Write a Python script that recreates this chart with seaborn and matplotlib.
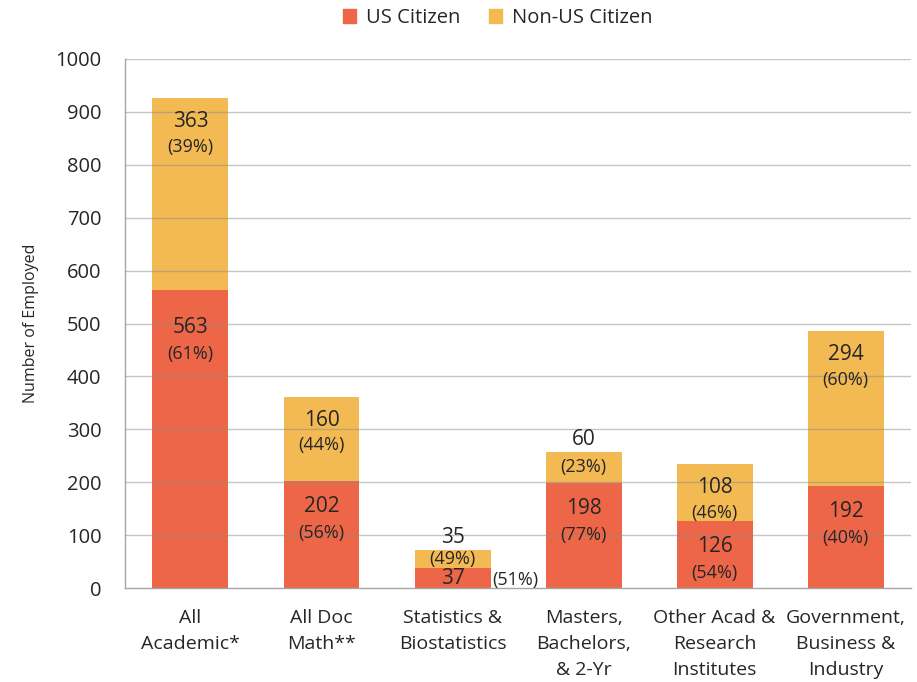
import matplotlib
matplotlib.use("Agg")
import matplotlib.pyplot as plt
import seaborn as sns
import pandas as pd
from matplotlib.patches import Patch

categories = [
    "All\nAcademic*",
    "All Doc\nMath**",
    "Statistics &\nBiostatistics",
    "Masters,\nBachelors,\n& 2-Yr",
    "Other Acad &\nResearch\nInstitutes",
    "Government,\nBusiness &\nIndustry",
]
us_citizen = [563, 202, 37, 198, 126, 192]
non_us_citizen = [363, 160, 35, 60, 108, 294]
us_pct = [61, 56, 51, 77, 54, 40]
non_us_pct = [39, 44, 49, 23, 46, 60]
y_ticks = list(range(0, 1001, 100))

US_COLOR = "#EE6648"
NON_US_COLOR = "#F3B953"
TEXT = "#262626"

sns.set_theme(style="white")
plt.rcParams["font.family"] = ["Open Sans", "DejaVu Sans"]

df = pd.DataFrame({
    "category": categories,
    "us": us_citizen,
    "non_us": non_us_citizen,
})
df["total"] = df["us"] + df["non_us"]

fig = plt.figure(figsize=(9.17, 6.82), dpi=100)
ax = fig.add_axes([0.1363, 0.1378, 0.8572, 0.7757])

# stacked bars: totals in yellow, US share drawn over them
sns.barplot(data=df, x="category", y="total", color=NON_US_COLOR, width=0.58,
            saturation=1, ax=ax, linewidth=0, edgecolor="none")
sns.barplot(data=df, x="category", y="us", color=US_COLOR, width=0.58,
            saturation=1, ax=ax, linewidth=0, edgecolor="none")

ax.set_ylim(0, 1000)
ax.set_xlim(-0.5, len(categories) - 0.5)
ax.set_yticks(y_ticks)
ax.tick_params(axis="y", labelsize=14.5, colors="#A6A6A6", labelcolor=TEXT,
               length=5, width=1, direction="out", pad=12)

# gridlines sit over the bars, semi-transparent
for v in y_ticks[1:]:
    ax.axhline(v, color="#8C8C8C", alpha=0.5, linewidth=1, zorder=3)

# category ticks sit on the boundaries between groups
ax.set_xticks([i + 0.5 for i in range(len(categories) - 1)], minor=True)
ax.set_xticks(range(len(categories)))
ax.set_xticklabels(categories, fontsize=14, color=TEXT, linespacing=1.57)
ax.tick_params(axis="x", which="major", length=0, pad=15)
ax.tick_params(axis="x", which="minor", length=5, width=1, color="#A6A6A6",
               direction="out")

ax.set_xlabel("")
ax.set_ylabel("Number of Employed", fontsize=11.5, color=TEXT, labelpad=12)

ax.grid(False)
for side in ["top", "right"]:
    ax.spines[side].set_visible(False)
for side in ["left", "bottom"]:
    ax.spines[side].set_color("#A6A6A6")
    ax.spines[side].set_linewidth(1)

VAL_FS = 15
PCT_FS = 13
lab_kw = dict(ha="center", va="center", color=TEXT, textcoords="offset points",
              zorder=4)
for i in range(len(categories)):
    us, nu = us_citizen[i], non_us_citizen[i]
    top = us + nu
    # non-US segment
    if nu >= 100:
        ax.annotate(f"{nu}", (i, top), xytext=(0, -17), fontsize=VAL_FS, **lab_kw)
        ax.annotate(f"({non_us_pct[i]}%)", (i, top), xytext=(0, -35), fontsize=PCT_FS, **lab_kw)
    else:
        ax.annotate(f"{nu}", (i, top), xytext=(0, 9), fontsize=VAL_FS, **lab_kw)
        ax.annotate(f"({non_us_pct[i]}%)", (i, us + nu / 2), xytext=(0, 0), fontsize=PCT_FS, **lab_kw)
    # US segment
    if us >= 100:
        off = -27 if us > 400 else -18
        ax.annotate(f"{us}", (i, us), xytext=(0, off), fontsize=VAL_FS, **lab_kw)
        ax.annotate(f"({us_pct[i]}%)", (i, us), xytext=(0, off - 19), fontsize=PCT_FS, **lab_kw)
    else:
        ax.annotate(f"{us}", (i, us / 2), xytext=(0, 0), fontsize=VAL_FS, **lab_kw)
        ax.annotate(f"({us_pct[i]}%)", (i + 0.29, us / 2), xytext=(18, -1),
                    fontsize=PCT_FS, **lab_kw)

handles = [Patch(color=US_COLOR, label="US Citizen"),
           Patch(color=NON_US_COLOR, label="Non-US Citizen")]
fig.legend(handles=handles, loc="upper center", bbox_to_anchor=(0.543, 1.015),
           ncol=2, frameon=False, fontsize=14.5, handlelength=0.65, handleheight=0.65,
           handletextpad=0.5, columnspacing=1.4, labelcolor=TEXT)

fig.savefig("out.png", dpi=100)
